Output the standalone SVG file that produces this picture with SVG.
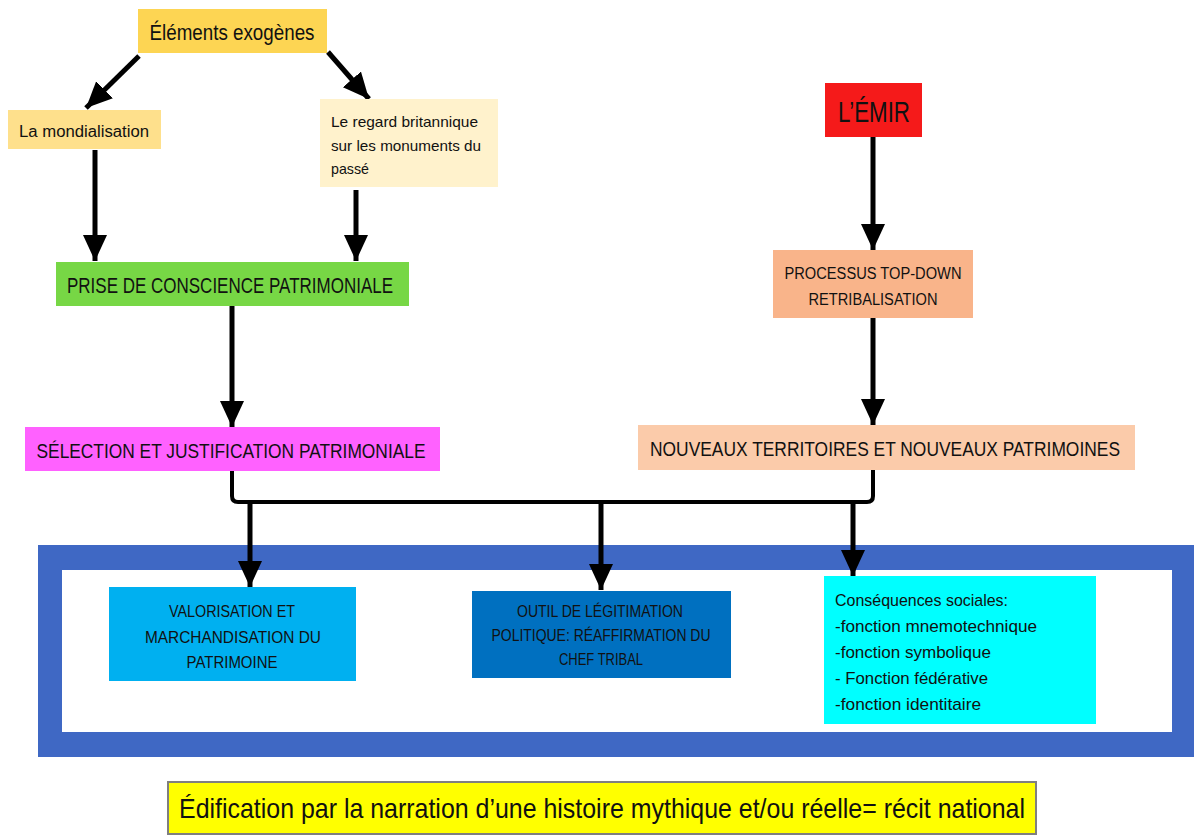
<svg xmlns="http://www.w3.org/2000/svg" width="1194" height="835" viewBox="0 0 1194 835">
<defs>
<marker id="ah" markerUnits="userSpaceOnUse" markerWidth="26" markerHeight="26" refX="26" refY="12" orient="auto">
<path d="M0,0 L26,12 L0,24 Z" fill="#000"/>
</marker>
<style>
text{font-family:"Liberation Sans",Arial,sans-serif;fill:#111;}
.c{text-anchor:middle;}
.ar{stroke:#000;stroke-width:5;fill:none;marker-end:url(#ah);}
.ln{stroke:#000;stroke-width:4;fill:none;}
</style>
</defs>
<rect width="1194" height="835" fill="#fff"/>
<g id="frame">
<rect x="38" y="545" width="1156" height="212" fill="#3F68C4"/>
<rect x="62" y="570" width="1110" height="162" fill="#fff"/>
</g>
<g id="connectors">
<line class="ar" x1="139" y1="56" x2="86" y2="108"/>
<line class="ar" x1="328" y1="52" x2="369" y2="99"/>
<line class="ar" x1="95" y1="150" x2="95" y2="261"/>
<line class="ar" x1="356" y1="190" x2="356" y2="261"/>
<line class="ar" x1="232" y1="306" x2="232" y2="427"/>
<line class="ar" x1="873" y1="137" x2="873" y2="250"/>
<line class="ar" x1="873" y1="318" x2="873" y2="425"/>
<path class="ln" d="M232,471 L232,496 Q232,502 238,502 L867,502 Q873,502 873,496 L873,470"/>
<line class="ar" x1="250" y1="502" x2="250" y2="587"/>
<line class="ar" x1="601" y1="502" x2="601" y2="590"/>
<line class="ar" x1="853" y1="502" x2="853" y2="576"/>
</g>
<g id="n-exogenes">
<rect x="138" y="9" width="189" height="44" fill="#FDD553"/>
<text x="232" y="40" class="c" font-size="22" textLength="165" lengthAdjust="spacingAndGlyphs">Éléments exogènes</text>
</g>
<g id="n-mondialisation">
<rect x="8" y="110" width="153" height="39" fill="#FEE08C"/>
<text x="19" y="137" font-size="16" textLength="130" lengthAdjust="spacingAndGlyphs">La mondialisation</text>
</g>
<g id="n-regard">
<rect x="320" y="99" width="178" height="88" fill="#FFF2CC"/>
<text x="331" y="127" font-size="14.5" textLength="147" lengthAdjust="spacingAndGlyphs">Le regard britannique</text>
<text x="331" y="151" font-size="14.5" textLength="150" lengthAdjust="spacingAndGlyphs">sur les monuments du</text>
<text x="331" y="174" font-size="14.5" textLength="38" lengthAdjust="spacingAndGlyphs">passé</text>
</g>
<g id="n-emir">
<rect x="825" y="83" width="97" height="54" fill="#F51A1A"/>
<text x="874" y="122" class="c" font-size="29" textLength="72" lengthAdjust="spacingAndGlyphs">L’ÉMIR</text>
</g>
<g id="n-prise">
<rect x="56" y="262" width="353" height="44" fill="#77D745"/>
<text x="230" y="293" class="c" font-size="22" textLength="326" lengthAdjust="spacingAndGlyphs">PRISE DE CONSCIENCE PATRIMONIALE</text>
</g>
<g id="n-processus">
<rect x="773" y="250" width="200" height="68" fill="#F9B48A"/>
<text x="873" y="279" class="c" font-size="16" textLength="177" lengthAdjust="spacingAndGlyphs">PROCESSUS TOP-DOWN</text>
<text x="873" y="305" class="c" font-size="16" textLength="129" lengthAdjust="spacingAndGlyphs">RETRIBALISATION</text>
</g>
<g id="n-selection">
<rect x="25" y="427" width="415" height="44" fill="#FF61FF"/>
<text x="231" y="458" class="c" font-size="21" textLength="389" lengthAdjust="spacingAndGlyphs">SÉLECTION ET JUSTIFICATION PATRIMONIALE</text>
</g>
<g id="n-nouveaux">
<rect x="638" y="425" width="497" height="45" fill="#FBCBAA"/>
<text x="885" y="456" class="c" font-size="19.5" textLength="470" lengthAdjust="spacingAndGlyphs">NOUVEAUX TERRITOIRES ET NOUVEAUX PATRIMOINES</text>
</g>
<g id="n-valorisation">
<rect x="109" y="587" width="247" height="94" fill="#00B0F0"/>
<text x="232" y="617" class="c" font-size="17" textLength="126" lengthAdjust="spacingAndGlyphs">VALORISATION ET</text>
<text x="233" y="643" class="c" font-size="17" textLength="176" lengthAdjust="spacingAndGlyphs">MARCHANDISATION DU</text>
<text x="232" y="668" class="c" font-size="17" textLength="91" lengthAdjust="spacingAndGlyphs">PATRIMOINE</text>
</g>
<g id="n-outil">
<rect x="472" y="591" width="259" height="87" fill="#0070C0"/>
<text x="600" y="617" class="c" font-size="16" textLength="166" lengthAdjust="spacingAndGlyphs">OUTIL DE LÉGITIMATION</text>
<text x="601" y="641" class="c" font-size="16" textLength="219" lengthAdjust="spacingAndGlyphs">POLITIQUE: RÉAFFIRMATION DU</text>
<text x="601" y="665" class="c" font-size="16" textLength="84" lengthAdjust="spacingAndGlyphs">CHEF TRIBAL</text>
</g>
<g id="n-consequences">
<rect x="824" y="576" width="272" height="148" fill="#00FFFF"/>
<text x="835" y="606" font-size="17" textLength="173" lengthAdjust="spacingAndGlyphs">Conséquences sociales:</text>
<text x="835" y="632" font-size="17" textLength="202" lengthAdjust="spacingAndGlyphs">-fonction mnemotechnique</text>
<text x="835" y="658" font-size="17" textLength="156" lengthAdjust="spacingAndGlyphs">-fonction symbolique</text>
<text x="835" y="684" font-size="17" textLength="153" lengthAdjust="spacingAndGlyphs">- Fonction fédérative</text>
<text x="835" y="710" font-size="17" textLength="146" lengthAdjust="spacingAndGlyphs">-fonction identitaire</text>
</g>
<g id="n-edification">
<rect x="168" y="782" width="868" height="52" fill="#FFFF00" stroke="#7F7F7F" stroke-width="2"/>
<text x="602" y="818" class="c" font-size="28" textLength="846" lengthAdjust="spacingAndGlyphs">Édification par la narration d’une histoire mythique et/ou réelle= récit national</text>
</g>
</svg>
